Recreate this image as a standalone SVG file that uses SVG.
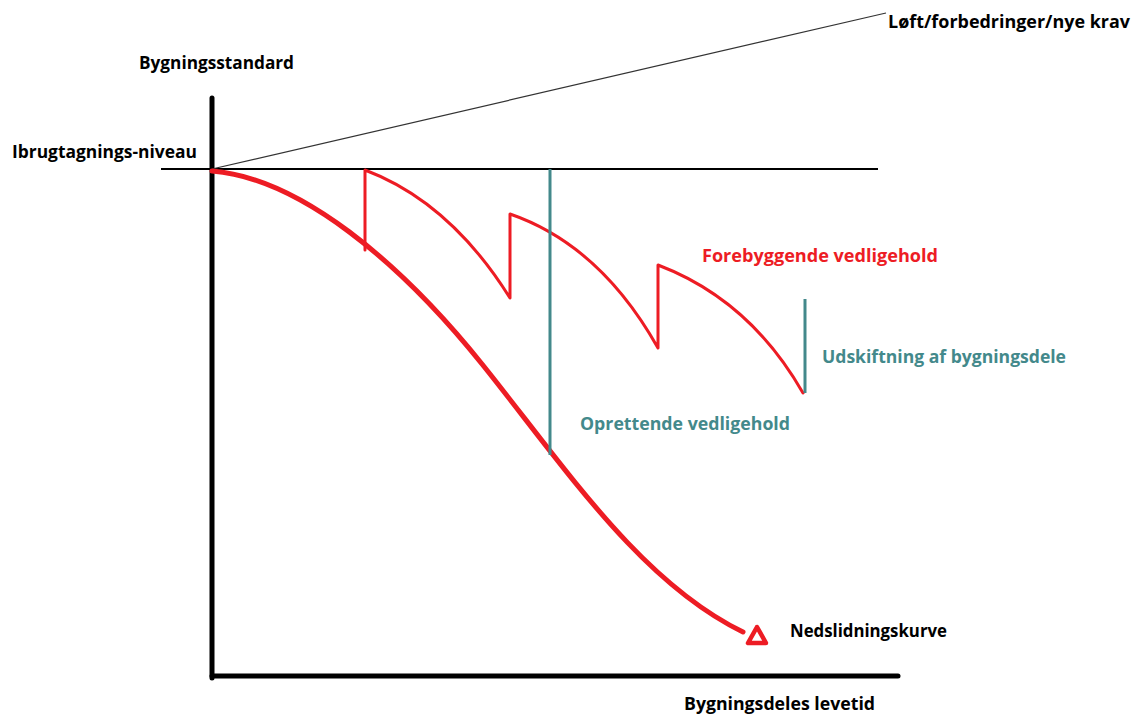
<svg xmlns="http://www.w3.org/2000/svg" width="1135" height="715" viewBox="0 0 1135 715">
<style>
text{font-family:"Open Sans","Noto Sans","Liberation Sans",sans-serif;font-weight:bold;font-size:18px}
.k{fill:#000}
.r{fill:#ed1c24}
.t{fill:#43898b}
.axis{stroke:#000;stroke-width:5;stroke-linecap:round;fill:none}
.red{stroke:#ed1c24;fill:none;stroke-linejoin:round;stroke-linecap:round}
.teal{stroke:#43898b;stroke-width:3;fill:none}
</style>
<rect width="1135" height="715" fill="#fff"/>
<g id="axes">
<line class="axis" x1="212" y1="98" x2="212" y2="678"/>
<line class="axis" x1="212" y1="676" x2="898" y2="676"/>
<line x1="161" y1="169" x2="878" y2="169" stroke="#000" stroke-width="2"/>
<line x1="212" y1="169" x2="886" y2="13" stroke="#333" stroke-width="1.2"/>
</g>
<g id="connectors">
<path id="nedslidning" class="red" stroke-width="5" d="M212,171 C300,178 400,262 482,364 S640,582 743,632"/>
<polygon id="arrow" points="757,627 748,643 766,643" fill="none" stroke="#ed1c24" stroke-width="4.5" stroke-linejoin="round"/>
<path id="forebyggende" class="red" stroke-width="3" d="M365,250 L365,170 Q450,202 510,298 L510,214 Q600,245 658,348 L658,265 Q750,300 803,393"/>
<line id="opr-line" class="teal" x1="550" y1="169" x2="550" y2="455"/>
<line id="udsk-line" class="teal" x1="805" y1="299" x2="805" y2="393"/>
</g>
<g id="label-y"><text class="k" x="139" y="69" textLength="155" lengthAdjust="spacingAndGlyphs">Bygningsstandard</text></g>
<g id="label-level"><text class="k" x="12" y="158" textLength="185" lengthAdjust="spacingAndGlyphs">Ibrugtagnings-niveau</text></g>
<g id="label-lift"><text class="k" x="888" y="28" textLength="242" lengthAdjust="spacingAndGlyphs">Løft/forbedringer/nye krav</text></g>
<g id="label-fore"><text class="r" x="702" y="262" textLength="236" lengthAdjust="spacingAndGlyphs">Forebyggende vedligehold</text></g>
<g id="label-udsk"><text class="t" x="822" y="363" textLength="244" lengthAdjust="spacingAndGlyphs">Udskiftning af bygningsdele</text></g>
<g id="label-opr"><text class="t" x="580" y="430" textLength="210" lengthAdjust="spacingAndGlyphs">Oprettende vedligehold</text></g>
<g id="label-ned"><text class="k" x="790" y="637" textLength="157" lengthAdjust="spacingAndGlyphs">Nedslidningskurve</text></g>
<g id="label-x"><text class="k" x="684" y="710" textLength="191" lengthAdjust="spacingAndGlyphs">Bygningsdeles levetid</text></g>
</svg>
